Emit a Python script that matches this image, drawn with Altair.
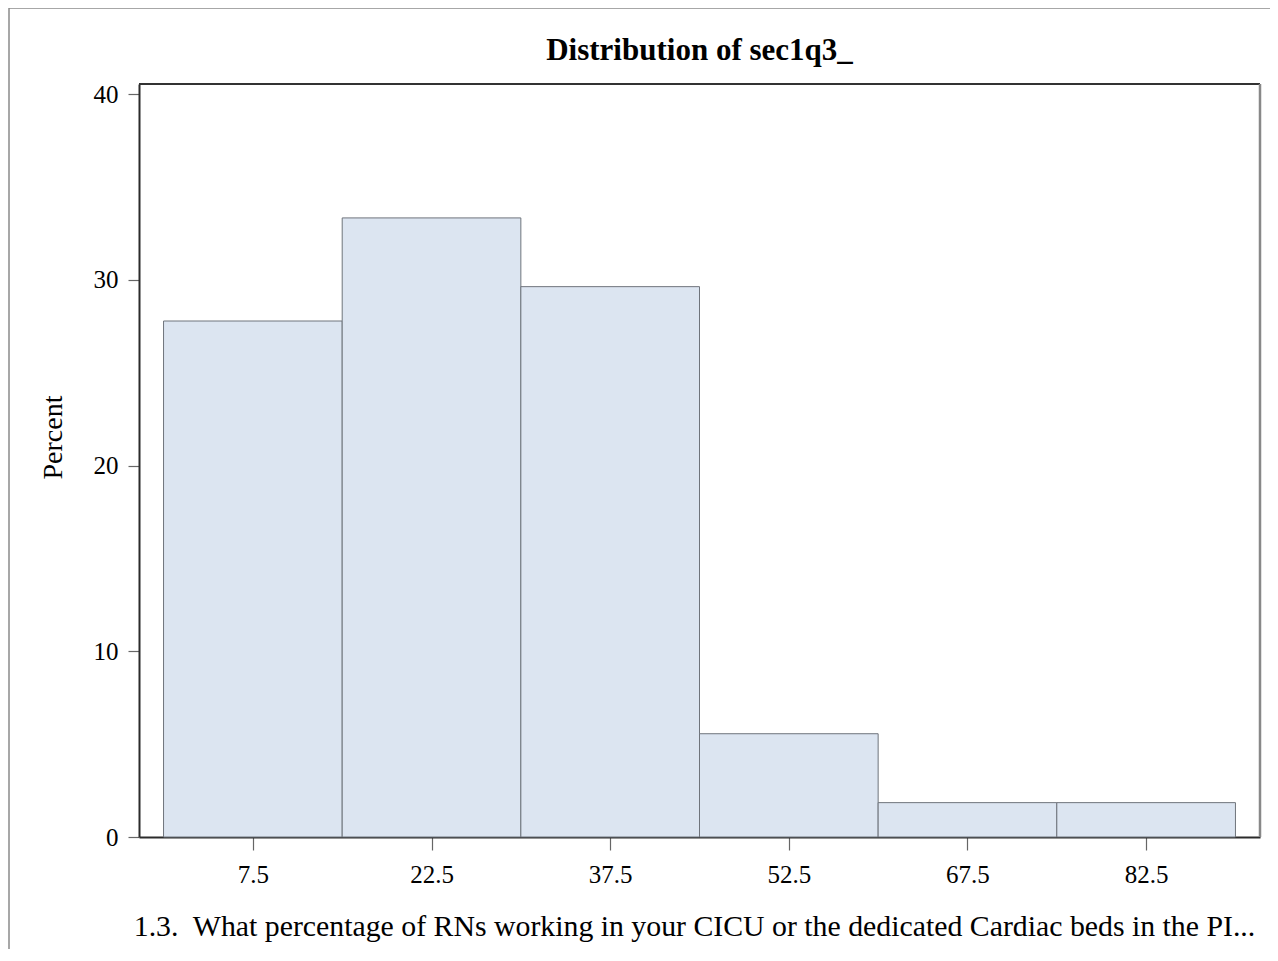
import altair as alt
import pandas as pd

# Data: histogram bins (percent of respondents)
bin_start = [0, 15, 30, 45, 60, 75]
bin_end = [15, 30, 45, 60, 75, 90]
percent = [27.78, 33.33, 29.63, 5.56, 1.85, 1.85]
tick_values = [7.5, 22.5, 37.5, 52.5, 67.5, 82.5]
y_ticks = [0, 10, 20, 30, 40]
title_text = ["Distribution of sec1q3_"]

df = pd.DataFrame({"start": bin_start, "end": bin_end, "pct": percent})

FONT = "Liberation Serif"
W, H = 1121, 753

x_scale = alt.Scale(domain=[-2.06, 92.06], nice=False, zero=False)
y_scale = alt.Scale(domain=[0, 40.54], nice=False, zero=False)

bars = alt.Chart(df).mark_rect(
    fill="#DCE5F1", stroke="#6f747c", strokeWidth=1
).encode(
    x=alt.X("start:Q", scale=x_scale,
            axis=alt.Axis(
                values=tick_values, format=".1f", grid=False,
                title="1.3.\u00a0 What percentage of RNs working in your CICU or the dedicated Cardiac beds in the PI...",
                titleFont=FONT, titleFontSize=29.8, titleFontWeight="normal", titleColor="#000",
                titleX=555, titleY=98, titleBaseline="alphabetic", titleAlign="center",
                labelFont=FONT, labelFontSize=25, labelColor="#000", labelPadding=12,
                tickSize=13, tickColor="#666", tickWidth=1.2,
                domainColor="#2b2b2b", domainWidth=2, labelFlush=False)),
    x2="end:Q",
    y=alt.Y("pct:Q", scale=y_scale,
            axis=alt.Axis(
                values=y_ticks, grid=False, title="Percent",
                titleFont=FONT, titleFontSize=28, titleFontWeight="normal", titleColor="#000",
                titleX=-78, titleY=353, titleBaseline="alphabetic", titleAngle=-90,
                titleAlign="center",
                labelFont=FONT, labelFontSize=25, labelColor="#000", labelPadding=10,
                tickSize=11, tickColor="#666", tickWidth=1.2,
                domainColor="#2b2b2b", domainWidth=2, labelFlush=False)),
    y2=alt.datum(0),
)

one = pd.DataFrame({"a": [0]})

right_edge = alt.Chart(one).mark_rule(
    color="#888888", strokeWidth=2.5
).encode(x=alt.value(W), y=alt.value(0), y2=alt.value(H))

top_edge = alt.Chart(one).mark_rule(
    color="#333333", strokeWidth=2
).encode(x=alt.value(0), x2=alt.value(W), y=alt.value(0))

border = alt.Chart(one).mark_rect(
    filled=False, stroke="#8a8a8a", strokeWidth=1.5
).encode(x=alt.value(-130), x2=alt.value(1300), y=alt.value(-76), y2=alt.value(1000))

title = alt.Chart(pd.DataFrame({"t": title_text})).mark_text(
    font=FONT, fontSize=31, fontWeight="bold", color="#000",
    align="center", baseline="alphabetic"
).encode(text="t:N", x=alt.value(W / 2), y=alt.value(-24))

chart = alt.layer(border, bars, top_edge, right_edge, title).properties(
    width=W, height=H,
    autosize=alt.AutoSizeParams(type="none"),
    padding={"left": 131, "top": 76, "right": 10, "bottom": 112},
).configure_view(
    stroke="#333333", strokeWidth=1.5
).configure(background="white")

chart.save("out.html", embed_options={"renderer": "svg", "actions": False})
